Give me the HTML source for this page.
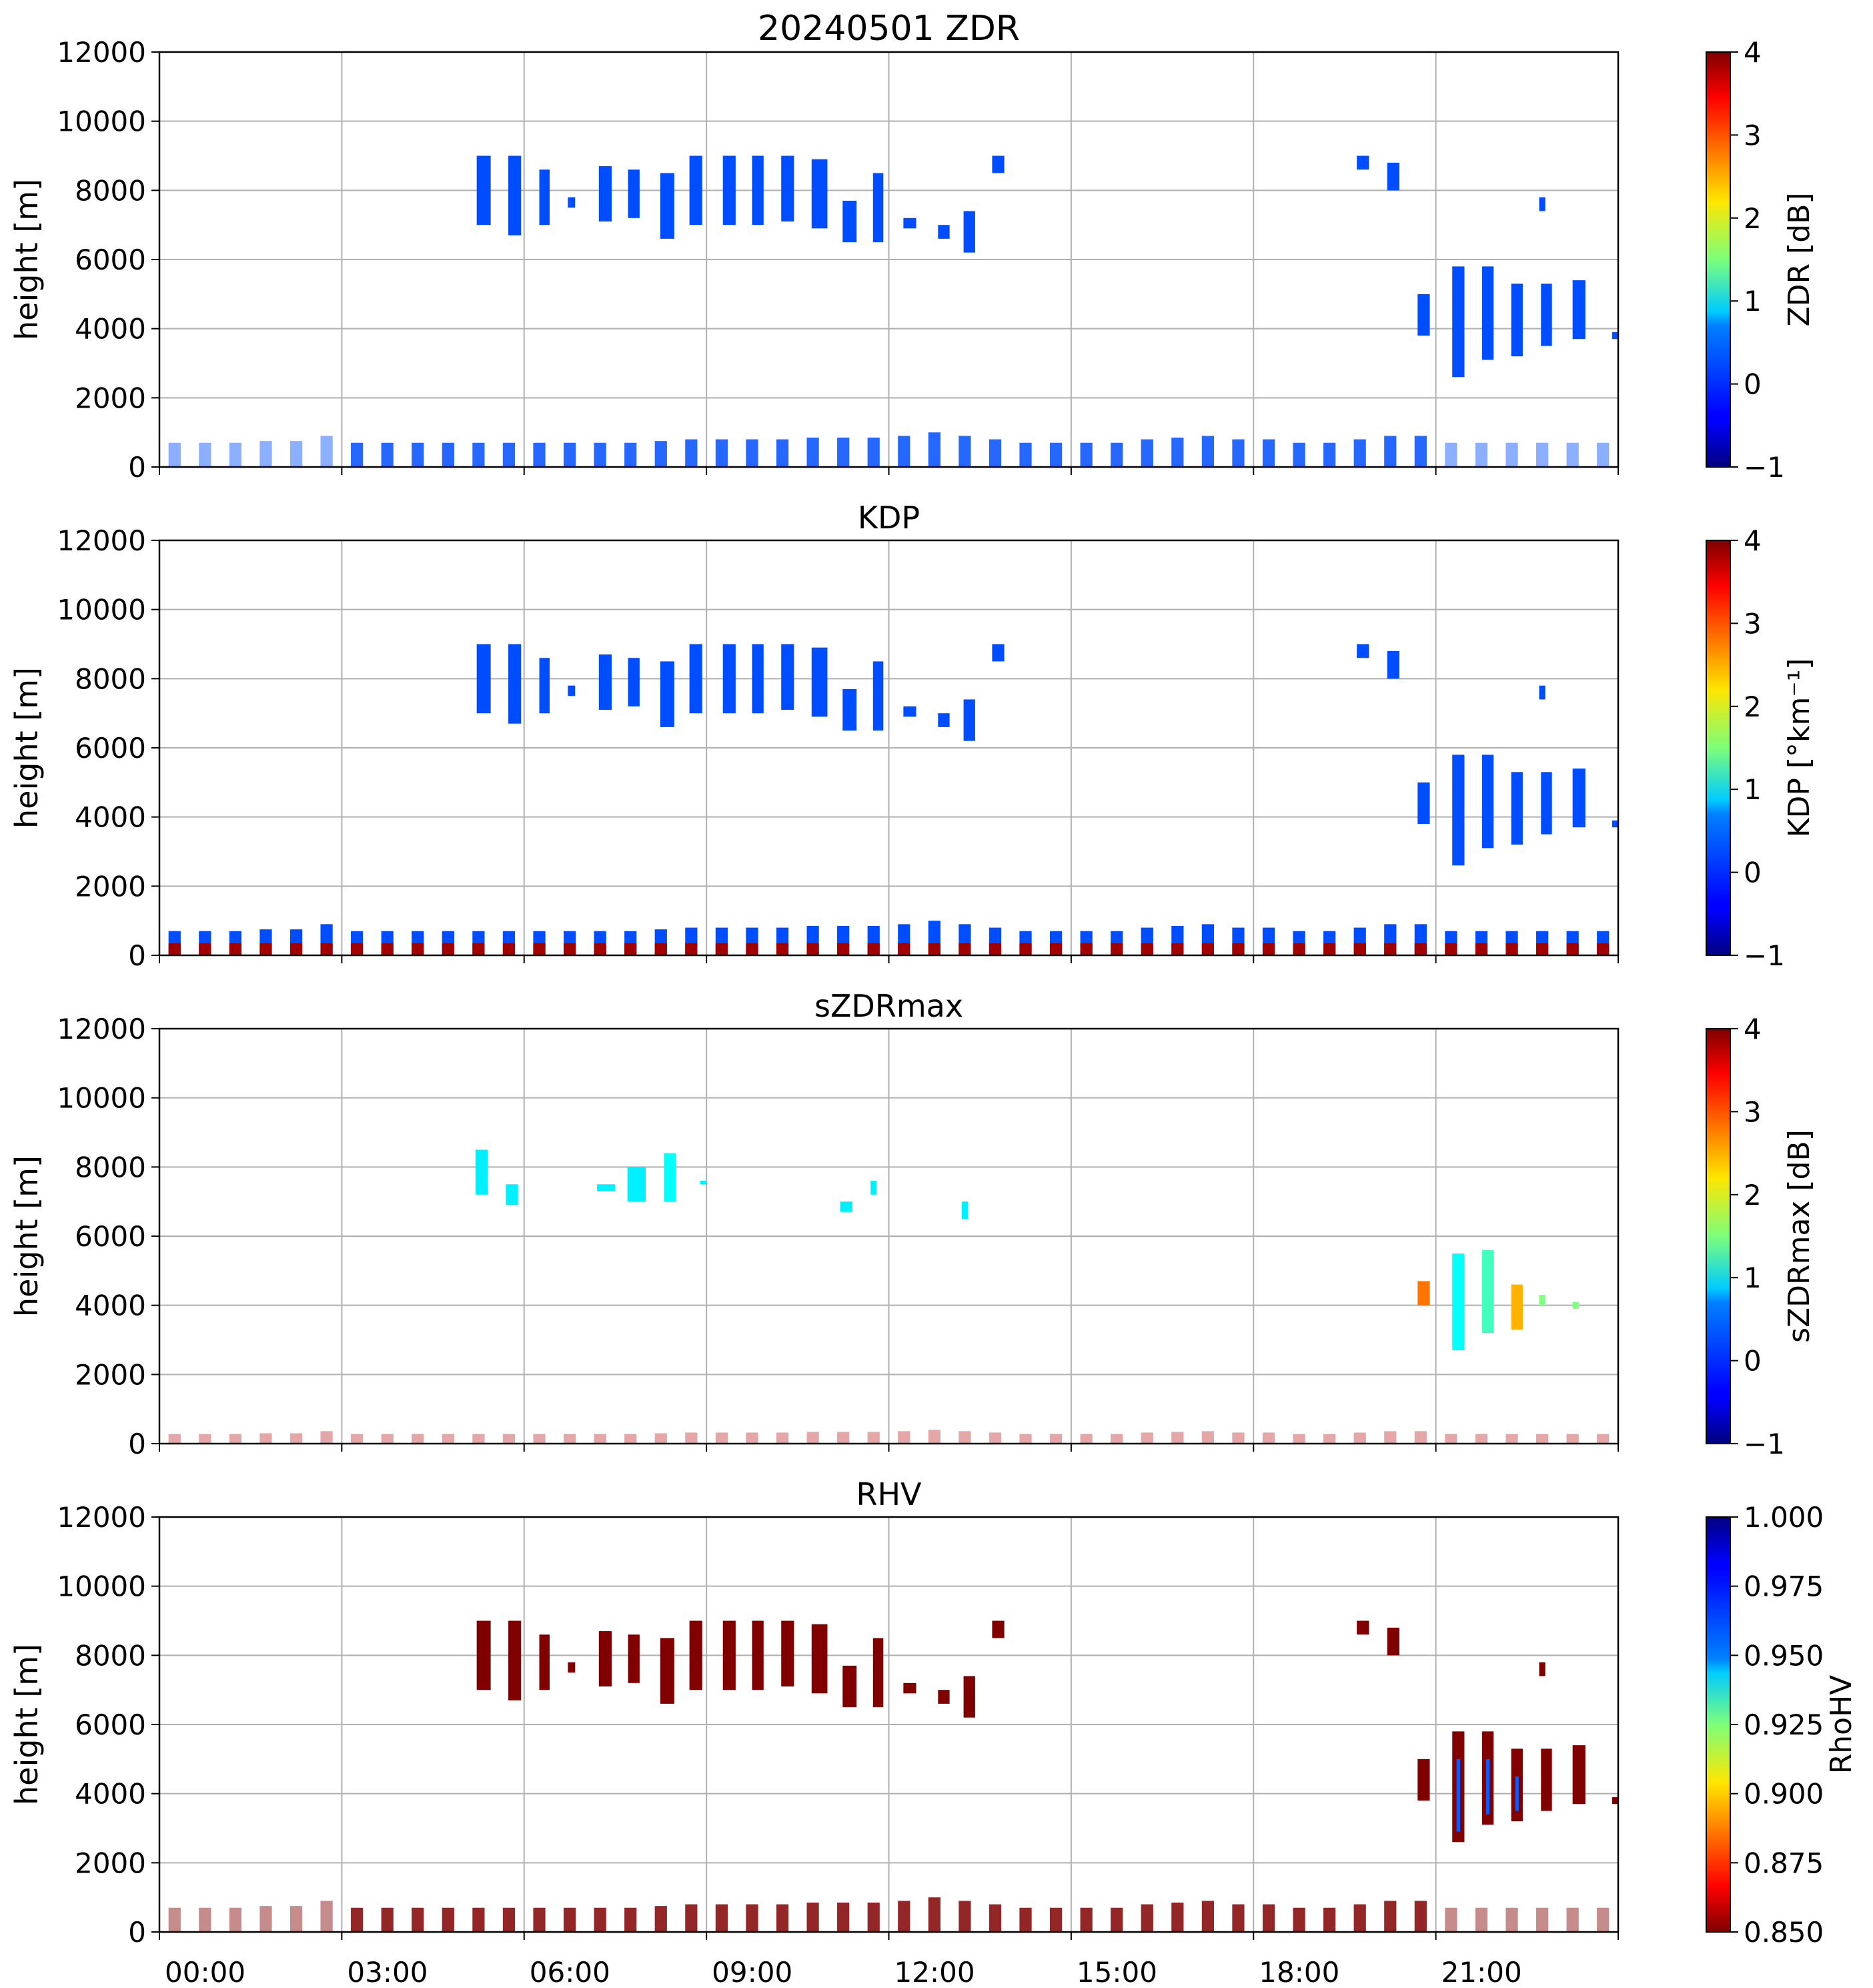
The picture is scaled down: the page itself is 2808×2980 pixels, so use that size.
<!DOCTYPE html>
<html><head><meta charset="utf-8">
<style>
html,body{margin:0;padding:0;background:#fff;}
svg{display:block;font-family:"DejaVu Sans","Liberation Sans",sans-serif;}
</style></head>
<body>
<svg id="fig" width="2808" height="2980" viewBox="0 0 2808 2980" xmlns="http://www.w3.org/2000/svg">
<defs>
<linearGradient id="jetUp" x1="0" y1="1" x2="0" y2="0">
<stop offset="0" stop-color="#00007f"/><stop offset="0.11" stop-color="#0000ff"/><stop offset="0.125" stop-color="#0000ff"/>
<stop offset="0.34" stop-color="#0080ff"/><stop offset="0.375" stop-color="#00ccff"/><stop offset="0.5" stop-color="#7dff7a"/>
<stop offset="0.64" stop-color="#ffe600"/><stop offset="0.75" stop-color="#ff8000"/><stop offset="0.89" stop-color="#ff0000"/><stop offset="1" stop-color="#7f0000"/>
</linearGradient>
<linearGradient id="jetDown" x1="0" y1="0" x2="0" y2="1">
<stop offset="0" stop-color="#00007f"/><stop offset="0.11" stop-color="#0000ff"/><stop offset="0.125" stop-color="#0000ff"/>
<stop offset="0.34" stop-color="#0080ff"/><stop offset="0.375" stop-color="#00ccff"/><stop offset="0.5" stop-color="#7dff7a"/>
<stop offset="0.64" stop-color="#ffe600"/><stop offset="0.75" stop-color="#ff8000"/><stop offset="0.89" stop-color="#ff0000"/><stop offset="1" stop-color="#7f0000"/>
</linearGradient>
</defs>
</svg>
<script>
// ---- data (hours, metres, field values) ----
const cloudStart = [5.22,5.74,6.25,6.72,7.23,7.71,8.24,8.72,9.27,9.75,10.23,10.73,11.24,11.74,12.24,12.81,13.23,13.70,19.70,20.20,22.70];
const cloudEnd   = [5.45,5.95,6.42,6.84,7.44,7.90,8.47,8.93,9.48,9.94,10.44,10.99,11.47,11.91,12.45,13.00,13.42,13.90,19.90,20.40,22.80];
const cloudBase  = [7000,6700,7000,7500,7100,7200,6600,7000,7000,7000,7100,6900,6500,6500,6900,6600,6200,8500,8600,8000,7400];
const cloudTop   = [9000,9000,8600,7800,8700,8600,8500,9000,9000,9000,9000,8900,7700,8500,7200,7000,7400,9000,9000,8800,7800];
const lowStart   = [20.70,21.27,21.76,22.24,22.73,23.25,23.90];
const lowEnd     = [20.90,21.47,21.95,22.43,22.91,23.46,24.00];
const lowBase    = [3800,2600,3100,3200,3500,3700,3700];
const lowTop     = [5000,5800,5800,5300,5300,5400,3900];
const blTop = [700,700,700,750,750,900,700,700,700,700,700,700,700,700,700,700,750,800,800,800,800,850,850,850,
               900,1000,900,800,700,700,700,700,800,850,900,800,800,700,700,800,900,900,700,700,700,700,700,700];
const zdrValue = 0.0, kdpValue = 0.0, rhvValue = 0.85;
const szStart = [5.20,5.70,7.20,7.70,8.30,8.90,11.20,11.70,13.20,20.70,21.27,21.76,22.24,22.70,23.25];
const szEnd   = [5.40,5.90,7.50,8.00,8.50,9.00,11.40,11.80,13.30,20.90,21.47,21.95,22.43,22.80,23.35];
const szBase  = [7200,6900,7300,7000,7000,7500,6700,7200,6500,4000,2700,3200,3300,4000,3900];
const szTop   = [8500,7500,7500,8000,8400,7600,7000,7600,7000,4700,5500,5600,4600,4300,4100];
const szVal   = [0.8,0.8,0.8,0.8,0.9,0.8,0.8,0.8,0.8,2.8,0.9,1.2,2.5,1.5,1.5];
const yTicks = [0,2000,4000,6000,8000,10000,12000];
const xTickLabels = ["00:00","03:00","06:00","09:00","12:00","15:00","18:00","21:00"];
const titles = ["20240501 ZDR","KDP","sZDRmax","RHV"];
const cbLabels = ["ZDR [dB]","KDP [°km⁻¹]","sZDRmax [dB]","RhoHV"];
const cbTicksZ = [-1,0,1,2,3,4];
const cbTicksR = ["0.850","0.875","0.900","0.925","0.950","0.975","1.000"];

// ---- layout ----
const NS="http://www.w3.org/2000/svg";
const svg=document.getElementById('fig');
const L=239,R=2426,H=622,tops=[78,810,1542,2274],CBX=2558,CBW=36;
function mk(tag,attrs,parent){const e=document.createElementNS(NS,tag);for(const k in attrs)e.setAttribute(k,attrs[k]);(parent||svg).appendChild(e);return e;}
function jet(x){x=Math.max(0,Math.min(1,x));const c=v=>Math.round(255*Math.max(0,Math.min(1,v)));
  return `rgb(${c(1.5-Math.abs(4*x-3))},${c(1.5-Math.abs(4*x-2))},${c(1.5-Math.abs(4*x-1))})`;}
const xs=h=>L+(R-L)*h/24;

tops.forEach((T,p)=>{
  const ys=v=>T+H-H*v/12000;
  const g=mk('g',{});
  
  
  for(let i=0;i<=8;i++){const ln=mk('line',{x1:xs(i*3),x2:xs(i*3),y1:T,y2:T+H,stroke:'#b0b0b0','stroke-width':2},g);
    }
  yTicks.forEach(v=>{const ln=mk('line',{x1:L,x2:R,y1:ys(v),y2:ys(v),stroke:'#b0b0b0','stroke-width':2},g);
    });
  const col=p===0?jet((zdrValue+1)/5):p===1?jet((kdpValue+1)/5):p===3?jet((1-rhvValue)/0.15):null;
  blTop.forEach((t,i)=>{
    const h0=0.25+0.5*i-0.1, h1=h0+0.2;
    if(p===2){const r=mk('rect',{x:xs(h0),y:ys(t*0.4),width:xs(h1)-xs(h0),height:ys(0)-ys(t*0.4),fill:jet(0.95),opacity:0.35},g);
      return;}
    const r=mk('rect',{x:xs(h0),y:ys(t),width:xs(h1)-xs(h0),height:ys(0)-ys(t),fill:col,opacity:p===1?1:(i>=6&&i<=41?0.85:0.45)},g);
    
    if(p===1){const b=mk('rect',{x:xs(h0),y:ys(350),width:xs(h1)-xs(h0),height:ys(0)-ys(350),fill:'#a00000'},g);
      }
  });
  if(p!==2){
    cloudStart.forEach((s,i)=>{const r=mk('rect',{x:xs(s),y:ys(cloudTop[i]),width:xs(cloudEnd[i])-xs(s),height:ys(cloudBase[i])-ys(cloudTop[i]),fill:col},g);
      });
    lowStart.forEach((s,i)=>{const r=mk('rect',{x:xs(s),y:ys(lowTop[i]),width:xs(lowEnd[i])-xs(s),height:ys(lowBase[i])-ys(lowTop[i]),fill:col},g);
      
      if(p===3&&i>=1&&i<=3){const c=mk('rect',{x:xs(s)+(xs(lowEnd[i])-xs(s))*0.35,y:ys(lowTop[i]-800),width:(xs(lowEnd[i])-xs(s))*0.3,height:ys(lowBase[i]+300)-ys(lowTop[i]-800),fill:'#0a5cff'},g);
        }});
  } else {
    szStart.forEach((s,i)=>{const r=mk('rect',{x:xs(s),y:ys(szTop[i]),width:xs(szEnd[i])-xs(s),height:ys(szBase[i])-ys(szTop[i]),fill:jet((szVal[i]+1)/5)},g);
      });
  }
  const fr=mk('rect',{x:L,y:T,width:R-L,height:H,fill:'none',stroke:'#000','stroke-width':2.5},g);
  
  yTicks.forEach(v=>{mk('line',{x1:L-12,x2:L,y1:ys(v),y2:ys(v),stroke:'#000','stroke-width':2},g);
    const t=mk('text',{x:L-20,y:ys(v)+15,'text-anchor':'end','font-size':42},g);t.textContent=v;
    });
  for(let i=0;i<=8;i++)mk('line',{x1:xs(i*3),x2:xs(i*3),y1:T+H,y2:T+H+12,stroke:'#000','stroke-width':2},g);
  if(p===3)xTickLabels.forEach((s,i)=>{const t=mk('text',{x:xs(i*3)+8,y:T+H+75,'font-size':42},g);t.textContent=s;
    });
  const tt=mk('text',{x:(L+R)/2,y:T-18,'text-anchor':'middle','font-size':p===0?52:46},g);tt.textContent=titles[p];
  
  const yl=mk('text',{x:0,y:0,transform:`translate(56,${T+H/2}) rotate(-90)`,'text-anchor':'middle','font-size':46},g);yl.textContent='height [m]';
  
  const cb=mk('rect',{x:CBX,y:T,width:CBW,height:H,fill:p===3?'url(#jetDown)':'url(#jetUp)',stroke:'#000','stroke-width':2},g);
  
  const ticks=p===3?cbTicksR:cbTicksZ;
  ticks.forEach((v,i)=>{const y=T+H-H*i/(ticks.length-1);
    mk('line',{x1:CBX+CBW,x2:CBX+CBW+12,y1:y,y2:y,stroke:'#000','stroke-width':2},g);
    const t=mk('text',{x:CBX+CBW+20,y:y+15,'font-size':42},g);t.textContent=String(v).replace('-','−');
    });
  const cx=p===3?2775:2712;
  const cl=mk('text',{x:0,y:0,transform:`translate(${cx},${T+H/2}) rotate(-90)`,'text-anchor':'middle','font-size':44},g);cl.textContent=cbLabels[p];
  
});
</script>
</body></html>
